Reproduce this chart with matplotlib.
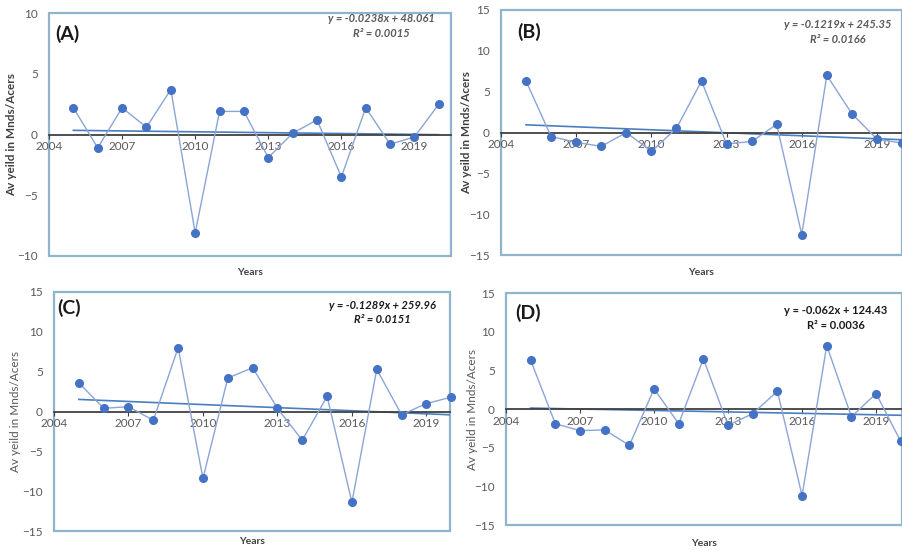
import matplotlib
matplotlib.use('Agg')
import matplotlib.pyplot as plt
from matplotlib.patches import Rectangle

plt.rcParams['font.family'] = ['Lato', 'DejaVu Sans']

years = list(range(2005, 2021))

yield_a = [2.2, -1.1, 2.2, 0.6, 3.7, -8.1, 1.9, 1.9, -1.9, 0.1, 1.2, -3.5, 2.2, -0.8, -0.2, 2.5]
yield_b = [6.3, -0.5, -1.2, -1.7, 0.0, -2.3, 0.5, 6.3, -1.4, -1.1, 1.0, -12.5, 7.0, 2.3, -0.8, -1.3]
yield_c = [3.6, 0.4, 0.6, -1.1, 8.0, -8.4, 4.2, 5.5, 0.4, -3.6, 1.9, -11.4, 5.3, -0.4, 1.0, 1.8]
yield_d = [6.3, -1.9, -2.8, -2.7, -4.7, 2.6, -1.9, 6.5, -2.1, -0.6, 2.3, -11.2, 8.2, -1.0, 2.0, -4.2]

slopes = [-0.0238, -0.1219, -0.1289, -0.062]
intercepts = [48.061, 245.35, 259.96, 124.43]
r2 = ['0.0015', '0.0166', '0.0151', '0.0036']
tags = ['(A)', '(B)', '(C)', '(D)']
xticks = [2004, 2007, 2010, 2013, 2016, 2019]

fig = plt.figure(figsize=(9.02, 5.5), dpi=100)

# panel boxes in pixels: left, top, right, bottom
boxes = [(49, 13, 451, 256), (501, 10, 902, 255), (54, 292, 450, 531), (506, 293, 902, 525)]
xlims = [(2004, 2020.5), (2004, 2020.0), (2004, 2019.95), (2004, 2020.05)]
ylims = [(-10, 10), (-15, 15), (-15, 15), (-15, 15)]
ylabel_x = [12, 467, 16, 472]
years_y = [272, 272, 541, 543]
tag_pos = [(0.015, 0.915), (0.04, 0.91), (0.008, 0.935), (0.023, 0.915)]
eq_pos = [(0.828, 0.977, 0.915), (0.84, 0.939, 0.88), (0.83, 0.943, 0.886), (0.833, 0.924, 0.862)]
series = [yield_a, yield_b, yield_c, yield_d]

W, H = 902, 550
for i in range(4):
    l, t, r, b = boxes[i]
    ax = fig.add_axes([l / W, (H - b) / H, (r - l) / W, (b - t) / H])
    ax.set_xlim(*xlims[i])
    ax.set_ylim(*ylims[i])
    for s in ['top', 'right', 'left']:
        ax.spines[s].set_visible(False)
    ax.spines['bottom'].set_position(('data', 0))
    ax.spines['bottom'].set_color('#404040')
    ax.spines['bottom'].set_linewidth(1.3)
    ax.add_patch(Rectangle((0, 0), 1, 1, transform=ax.transAxes, fill=False,
                           edgecolor='#8fb5cc', lw=1.6, clip_on=False, zorder=0))
    ax.set_xticks(xticks)
    ax.tick_params(axis='x', length=3, colors='#404040', labelsize=8.5, pad=2,
                   labelcolor='#595959')
    lo, hi = ylims[i]
    ax.set_yticks(list(range(lo, hi + 1, 5)))
    ax.tick_params(axis='y', length=0, labelsize=8.5, labelcolor='#595959', pad=8)

    ax.plot(years, series[i], color='#8aa5d6', lw=1.0, zorder=3, clip_on=False)
    ax.plot(years, series[i], 'o', color='#4472c4', ms=5.5, zorder=4, clip_on=False)
    trend = [slopes[i] * x + intercepts[i] for x in years]
    ax.plot(years, trend, color='#4a7ebf', lw=1.2, zorder=2)

    ax.text(tag_pos[i][0], tag_pos[i][1], tags[i], transform=ax.transAxes, fontsize=14,
            fontweight='bold', color='#1a1a1a', va='center')

    eq = 'y = {}x + {}'.format(slopes[i], intercepts[i])
    style = 'italic' if i < 3 else 'normal'
    col = '#595959' if i < 2 else '#1a1a1a'
    ex, ey1, ey2 = eq_pos[i]
    ax.text(ex, ey1, eq, transform=ax.transAxes, fontsize=8, fontweight='bold',
            style=style, color=col, ha='center', va='center')
    ax.text(ex, ey2, 'R² = ' + r2[i], transform=ax.transAxes, fontsize=8,
            fontweight='bold', style=style, color=col, ha='center', va='center')

    fig.text(ylabel_x[i] / W, 1 - (t + b) / 2 / H, 'Av yeild in Mnds/Acers',
             rotation=90, ha='center', va='center', fontsize=8.5,
             fontweight='bold' if i < 2 else 'normal', color='#404040' if i < 2 else '#595959')
    fig.text((l + r) / 2 / W, 1 - years_y[i] / H, 'Years', ha='center', va='center',
             fontsize=7.5, fontweight='bold', color='#404040')

fig.savefig('out.png', dpi=100)
